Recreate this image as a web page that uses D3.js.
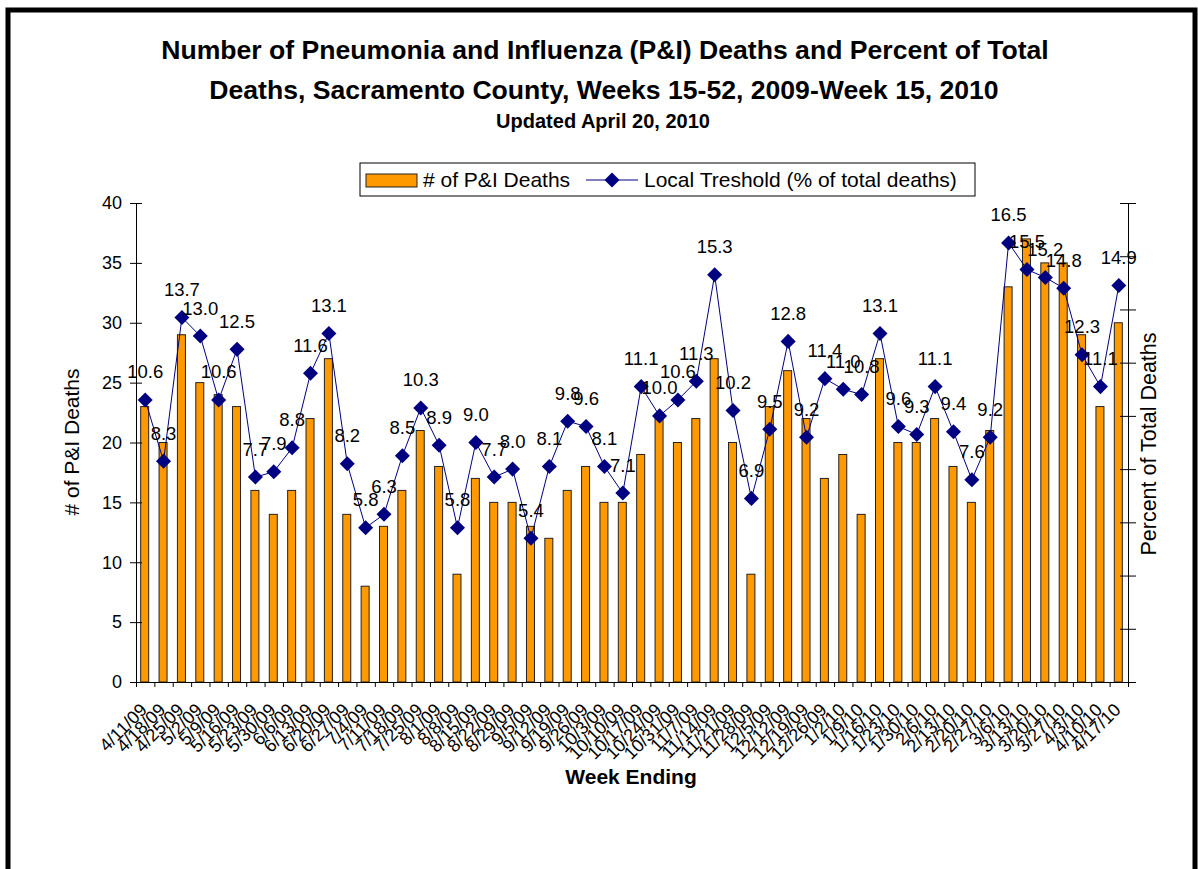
<!DOCTYPE html>
<html>
<head>
<meta charset="utf-8">
<script src="https://cdn.jsdelivr.net/npm/d3@7"></script>
<style>
  html, body { margin: 0; padding: 0; background: #fff; }
  svg { display: block; font-family: Arial, "Liberation Sans", sans-serif; }
</style>
</head>
<body>
<svg id="chart" width="1198" height="869"></svg>
<script>
const categories = ["4/11/09","4/18/09","4/25/09","5/2/09","5/9/09","5/16/09","5/23/09","5/30/09","6/6/09","6/13/09","6/20/09","6/27/09","7/4/09","7/11/09","7/18/09","7/25/09","8/1/09","8/8/09","8/15/09","8/22/09","8/29/09","9/5/09","9/12/09","9/19/09","9/26/09","10/3/09","10/10/09","10/17/09","10/24/09","10/31/09","11/7/09","11/14/09","11/21/09","11/28/09","12/5/09","12/12/09","12/19/09","12/26/09","1/2/10","1/9/10","1/16/10","1/23/10","1/30/10","2/6/10","2/13/10","2/20/10","2/27/10","3/6/10","3/13/10","3/20/10","3/27/10","4/3/10","4/10/10","4/17/10"];
const deaths = [23,20,29,25,24,23,16,14,16,22,27,14,8,13,16,21,18,9,17,15,15,13,12,16,18,15,15,19,22,20,22,27,20,9,23,26,22,17,19,14,27,20,20,22,18,15,21,33,37,35,35,29,23,30];
const percent = [10.6,8.3,13.7,13.0,10.6,12.5,7.7,7.9,8.8,11.6,13.1,8.2,5.8,6.3,8.5,10.3,8.9,5.8,9.0,7.7,8.0,5.4,8.1,9.8,9.6,8.1,7.1,11.1,10.0,10.6,11.3,15.3,10.2,6.9,9.5,12.8,9.2,11.4,11.0,10.8,13.1,9.6,9.3,11.1,9.4,7.6,9.2,16.5,15.5,15.2,14.8,12.3,11.1,14.9];
const leftTicks = [0,5,10,15,20,25,30,35,40];
const rightTicks = [0,2,4,6,8,10,12,14,16,18];
const titleLines = ["Number of Pneumonia and Influenza (P&I) Deaths and Percent of Total",
                    "Deaths, Sacramento County, Weeks 15-52, 2009-Week 15, 2010"];
const subtitle = "Updated April 20, 2010";
const seriesNames = ["# of P&I Deaths", "Local Treshold (% of total deaths)"];

const svg = d3.select("#chart");
const W = 1198, H = 869;
const plot = {left: 136, right: 1128, top: 203, bottom: 682};
const barColor = "#FF9900", lineColor = "#000080";

svg.append("rect").attr("x", 0).attr("y", 0).attr("width", W).attr("height", H).attr("fill", "#fff");
svg.append("rect").attr("x", 8).attr("y", 10).attr("width", 1187).attr("height", 890)
  .attr("fill", "none").attr("stroke", "#000").attr("stroke-width", 5);

// Titles
svg.append("text").attr("x", 605).attr("y", 59).attr("text-anchor", "middle")
  .attr("font-size", 26.6).attr("font-weight", "bold").text(titleLines[0]);
svg.append("text").attr("x", 604).attr("y", 99).attr("text-anchor", "middle")
  .attr("font-size", 26.6).attr("font-weight", "bold").text(titleLines[1]);
svg.append("text").attr("x", 603).attr("y", 128).attr("text-anchor", "middle")
  .attr("font-size", 20).attr("font-weight", "bold").text(subtitle);

// Scales
const x = d3.scaleBand().domain(categories).range([plot.left, plot.right]).paddingInner(0).paddingOuter(0);
const xIdx = d3.scaleLinear().domain([0, categories.length]).range([plot.left, plot.right]);
const yL = d3.scaleLinear().domain([0, 40]).range([plot.bottom, plot.top]);
const yR = d3.scaleLinear().domain([0, 18]).range([plot.bottom, plot.top]);
const cx = d => x(d) + x.bandwidth() / 2;

// Bars
const barW = 8;
svg.append("g").selectAll("rect").data(categories).join("rect")
  .attr("x", (d) => cx(d) - barW / 2 - 0.5)
  .attr("y", (d, i) => yL(deaths[i]))
  .attr("width", barW)
  .attr("height", (d, i) => yL(0) - yL(deaths[i]))
  .attr("fill", barColor).attr("stroke", "#222").attr("stroke-width", 1);

// Left axis
const gL = svg.append("g").attr("transform", `translate(${plot.left},0)`)
  .call(d3.axisLeft(yL).tickValues(leftTicks).tickSize(6).tickPadding(8));
gL.select(".domain").attr("stroke", "#000");
gL.selectAll(".tick line").attr("x1", 6).attr("x2", -6).attr("stroke", "#000");
gL.selectAll(".tick text").attr("font-size", 18).attr("fill", "#000")
  .attr("font-family", "Arial, 'Liberation Sans', sans-serif");

// Right axis
const gR = svg.append("g").attr("transform", `translate(${plot.right},0)`)
  .call(d3.axisRight(yR).tickValues(rightTicks).tickSize(8).tickFormat(""));
gR.select(".domain").attr("stroke", "#000");
gR.selectAll(".tick line").attr("x1", -8).attr("x2", 8).attr("stroke", "#000");

// X axis: boundary ticks
const gX = svg.append("g").attr("transform", `translate(0,${plot.bottom})`)
  .call(d3.axisBottom(xIdx).tickValues(d3.range(categories.length + 1)).tickSize(5).tickFormat(""));
gX.select(".domain").attr("stroke", "#000");
gX.selectAll(".tick line").attr("stroke", "#000");

// X labels
svg.append("g").selectAll("text").data(categories).join("text")
  .attr("transform", d => `translate(${cx(d) + 3},${711}) rotate(-45)`)
  .attr("text-anchor", "end").attr("font-size", 18).attr("fill", "#000")
  .text(d => d);

// Line
const line = d3.line().x((d, i) => cx(categories[i])).y(d => yR(d));
svg.append("path").datum(percent).attr("d", line)
  .attr("fill", "none").attr("stroke", lineColor).attr("stroke-width", 1);

const diamond = d3.symbol().type(d3.symbolSquare).size(113);
svg.append("g").selectAll("path").data(percent).join("path")
  .attr("d", diamond)
  .attr("transform", (d, i) => `translate(${cx(categories[i])},${yR(d)}) rotate(45)`)
  .attr("fill", lineColor);

// Data labels
svg.append("g").selectAll("text").data(percent).join("text")
  .attr("x", (d, i) => cx(categories[i]))
  .attr("y", d => yR(d) - 21.5)
  .attr("text-anchor", "middle").attr("font-size", 18.5).attr("fill", "#000")
  .text(d => d3.format(".1f")(d));

// Axis titles
svg.append("text").attr("transform", "translate(72,442) rotate(-90)")
  .attr("text-anchor", "middle").attr("dy", "0.35em").attr("font-size", 21).text("# of P&I Deaths");
svg.append("text").attr("transform", "translate(1148,444) rotate(-90)")
  .attr("text-anchor", "middle").attr("dy", "0.35em").attr("font-size", 21.5).text("Percent of Total Deaths");
svg.append("text").attr("x", 631).attr("y", 777).attr("dy", "0.35em")
  .attr("text-anchor", "middle").attr("font-size", 21).attr("font-weight", "bold").text("Week Ending");

// Legend
const lg = svg.append("g");
lg.append("rect").attr("x", 360).attr("y", 163).attr("width", 615).attr("height", 33)
  .attr("fill", "#fff").attr("stroke", "#000").attr("stroke-width", 1);
lg.append("rect").attr("x", 366).attr("y", 174).attr("width", 51).attr("height", 13)
  .attr("fill", barColor).attr("stroke", "#222");
lg.append("text").attr("x", 423).attr("y", 180).attr("dy", "0.35em").attr("font-size", 21).text(seriesNames[0]);
lg.append("line").attr("x1", 586).attr("x2", 638).attr("y1", 180).attr("y2", 180)
  .attr("stroke", lineColor).attr("stroke-width", 1);
lg.append("path").attr("d", diamond).attr("transform", "translate(612,180) rotate(45)").attr("fill", lineColor);
lg.append("text").attr("x", 644).attr("y", 180).attr("dy", "0.35em").attr("font-size", 21).text(seriesNames[1]);
</script>
</body>
</html>
